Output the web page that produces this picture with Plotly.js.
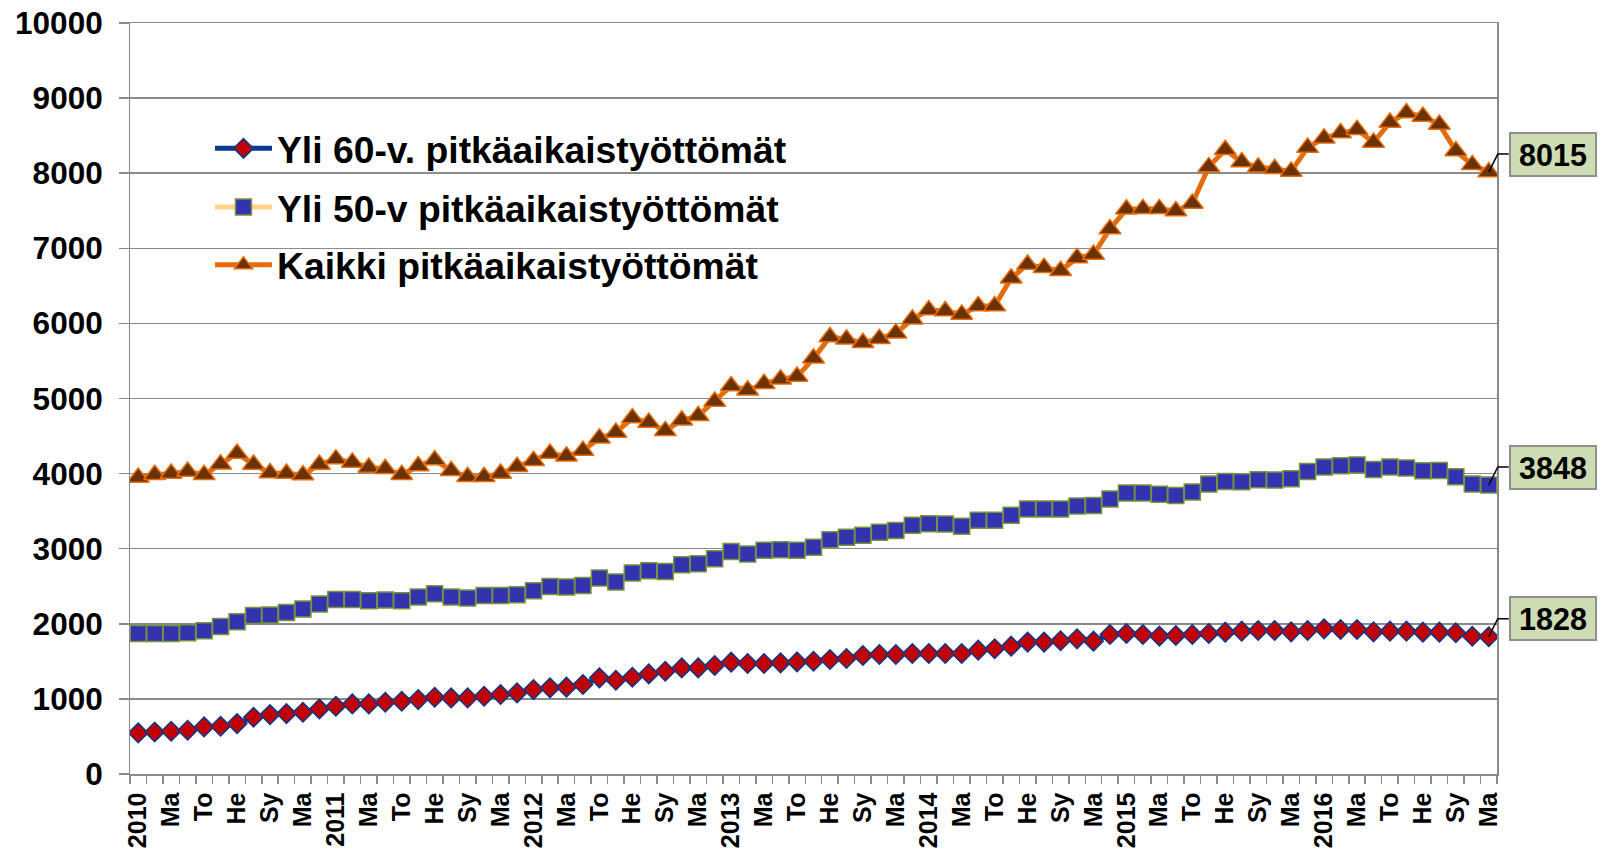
<!DOCTYPE html>
<html><head><meta charset="utf-8">
<script src="https://cdn.plot.ly/plotly-3.0.1.min.js"></script>
<style>html,body{margin:0;padding:0;background:#fff;} #chart{width:1604px;height:852px;}</style>
</head><body><div id="chart"></div>
<script>
// Tick labels shown every second month (Jan 2010 .. Nov 2016)
const xLabels = ["2010","Ma","To","He","Sy","Ma",
                 "2011","Ma","To","He","Sy","Ma",
                 "2012","Ma","To","He","Sy","Ma",
                 "2013","Ma","To","He","Sy","Ma",
                 "2014","Ma","To","He","Sy","Ma",
                 "2015","Ma","To","He","Sy","Ma",
                 "2016","Ma","To","He","Sy","Ma"];

const seriesNames = ["Yli 60-v. pitkäaikaistyöttömät","Yli 50-v pitkäaikaistyöttömät","Kaikki pitkäaikaistyöttömät"];

const yli60 = [547,560,569,582,627,636,671,756,791,804,822,867,
               902,933,933,956,969,991,1022,1013,1013,1036,1058,1080,
               1124,1147,1156,1191,1280,1249,1289,1333,1369,1413,1413,1444,
               1489,1471,1471,1480,1493,1502,1524,1538,1578,1591,1591,1604,
               1604,1604,1604,1649,1667,1702,1756,1756,1775,1800,1769,1858,
               1871,1858,1836,1844,1858,1871,1889,1902,1911,1911,1893,1911,
               1933,1924,1924,1893,1902,1902,1889,1889,1880,1835,1828];

const yli50 = [1871,1871,1870,1880,1907,1964,2027,2111,2116,2151,2196,2262,
               2324,2324,2307,2316,2307,2356,2400,2356,2342,2378,2378,2387,
               2440,2498,2490,2511,2609,2556,2676,2707,2698,2787,2800,2867,
               2964,2929,2978,2987,2978,3018,3120,3151,3178,3218,3244,3311,
               3333,3329,3298,3378,3378,3444,3529,3529,3527,3568,3574,3661,
               3741,3741,3725,3710,3756,3860,3896,3890,3918,3914,3933,4027,
               4089,4104,4115,4055,4089,4075,4038,4042,3958,3860,3848];

const kaikki = [3949,3984,4002,4029,3984,4126,4268,4122,4007,4002,3980,4122,
                4193,4149,4082,4064,3984,4100,4180,4038,3958,3958,4002,4091,
                4171,4268,4230,4306,4472,4547,4740,4680,4569,4711,4769,4959,
                5167,5110,5198,5256,5292,5535,5819,5788,5743,5797,5870,6054,
                6178,6164,6120,6231,6231,6601,6785,6740,6700,6872,6917,7258,
                7519,7525,7525,7497,7597,8084,8312,8148,8078,8058,8024,8341,
                8467,8534,8580,8410,8676,8802,8755,8649,8295,8111,8015];

const xIdx = yli60.map((_, i) => i);
const tickVals = xLabels.map((_, i) => 2 * i);
const lastIdx = xIdx[xIdx.length - 1];
const xRange = [-0.5, xIdx.length - 0.5];
const yRange = [0, 10000];

const FONT = 'Liberation Sans, Arial, sans-serif';
const GRID = '#8a8a8a';

const traces = [
  {x: xIdx, y: yli60, name: seriesNames[0], mode: 'lines+markers', legend: 'legend',
   line: {color: '#0b3a8a', width: 5},
   marker: {symbol: 'diamond', size: 15, color: '#c00000', line: {color: '#0b3a8a', width: 1.5}}},
  {x: xIdx, y: yli50, name: seriesNames[1], mode: 'lines+markers', legend: 'legend2',
   line: {color: '#ffd38a', width: 5},
   marker: {symbol: 'square', size: 16, color: '#3333b0', line: {color: '#77933c', width: 1.5}}},
  {x: xIdx, y: kaikki, name: seriesNames[2], mode: 'lines+markers', legend: 'legend3',
   line: {color: '#e46c0a', width: 5},
   marker: {symbol: 'triangle-up', size: 19, color: '#6b3206', line: {color: '#e46c0a', width: 1.5}}}
];

const seriesList = [yli60, yli50, kaikki];

// value labels at the last point, with a bent leader line
const annotations = seriesList.map(s => ({
  x: lastIdx, y: s[s.length - 1], xref: 'x', yref: 'y',
  xanchor: 'left', yanchor: 'middle', xshift: 20, yshift: 18,
  text: String(s[s.length - 1]), showarrow: false,
  font: {family: FONT, size: 30.5, weight: 'bold', color: '#000'},
  bgcolor: '#cddcb2', bordercolor: '#8f8f8f', borderwidth: 2, borderpad: 1,
  width: 82, height: 39
}));

// leader lines anchored (in paper fractions) at the last data point, not clipped by the plot area
const shapes = seriesList.map(s => ({
  type: 'path', xref: 'paper', yref: 'paper',
  xsizemode: 'pixel', ysizemode: 'pixel',
  xanchor: (lastIdx - xRange[0]) / (xRange[1] - xRange[0]),
  yanchor: (s[s.length - 1] - yRange[0]) / (yRange[1] - yRange[0]),
  path: 'M0,0L9,18L20,18',
  line: {color: '#000', width: 1.5}
}));

const legendBase = {
  font: {family: FONT, size: 37.3, weight: 'bold', color: '#000'},
  bgcolor: 'rgba(0,0,0,0)', borderwidth: 0, itemwidth: 57,
  xanchor: 'left', yanchor: 'top', x: 0.0585
};

const layout = {
  width: 1604, height: 852,
  margin: {l: 130, r: 107, t: 22.5, b: 77.6, autoexpand: false},
  paper_bgcolor: '#fff', plot_bgcolor: '#fff',
  font: {family: FONT, color: '#000'},
  showlegend: true,
  xaxis: {
    range: xRange, tickmode: 'array', tickvals: tickVals, ticktext: xLabels,
    tickangle: -90, ticks: '', showgrid: false, zeroline: false,
    showline: true, mirror: true, linecolor: GRID, linewidth: 1.5,
    tickfont: {family: FONT, size: 25, weight: 'bold', color: '#000'},
    ticklabelstandoff: 7, automargin: false,
    minor: {tickmode: 'linear', tick0: -0.5, dtick: 1, ticks: 'outside', ticklen: 8,
            tickcolor: GRID, tickwidth: 1.5, showgrid: false}
  },
  yaxis: {
    range: yRange, tickmode: 'linear', tick0: 0, dtick: 1000, tickformat: 'd',
    showgrid: true, gridcolor: GRID, gridwidth: 1.5,
    showline: true, mirror: true, linecolor: GRID, linewidth: 1.5,
    ticks: 'outside', ticklen: 9.5, tickcolor: GRID, tickwidth: 1.5, zeroline: false,
    tickfont: {family: FONT, size: 31.5, weight: 'bold', color: '#000'},
    ticklabelstandoff: 10, automargin: false
  },
  legend: Object.assign({}, legendBase, {y: 0.874}),
  legend2: Object.assign({}, legendBase, {y: 0.796}),
  legend3: Object.assign({}, legendBase, {y: 0.719}),
  annotations: annotations,
  shapes: shapes
};

Plotly.newPlot('chart', traces, layout, {displayModeBar: false, staticPlot: true});
</script>
</body></html>
